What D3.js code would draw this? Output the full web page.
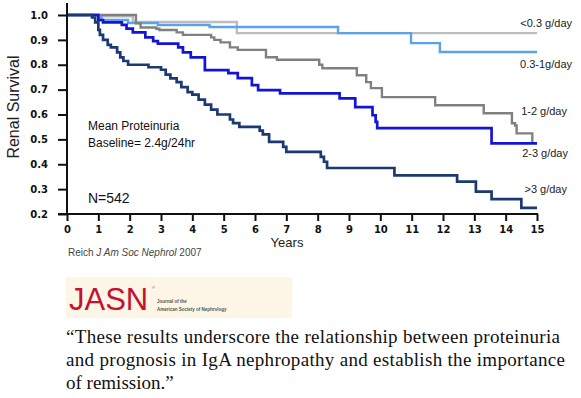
<!DOCTYPE html>
<html>
<head>
<meta charset="utf-8">
<script src="https://cdn.jsdelivr.net/npm/d3@7"></script>
<style>
  html, body { margin: 0; padding: 0; background: #fff; }
  svg { display: block; }
</style>
</head>
<body>
<svg id="chart" width="581" height="398"></svg>
<script>

// Kaplan-Meier steps per proteinuria group: [year, survival]
const lt03 = [[0,1],[1.0,0.995],[2.1,0.972],[5.42,0.927]];
const p03to1 = [[0,1],[1.0,0.99],[1.1,0.98],[1.95,0.968],[2.9,0.96],[4.55,0.952],[8.65,0.927],[10.98,0.887],[11.9,0.851]];
const p1to2 = [[0,1],[2.2,0.967],[2.35,0.95],[2.85,0.945],[2.95,0.94],[3.5,0.93],[3.7,0.92],[4.6,0.91],[4.7,0.9],[4.9,0.89],[5.2,0.87],[5.45,0.86],[6.35,0.83],[6.7,0.82],[8.05,0.80],[8.15,0.786],[9.25,0.758],[9.55,0.73],[9.7,0.706],[10.05,0.67],[11.75,0.637],[13.3,0.605],[14.2,0.565],[14.3,0.556],[14.35,0.524],[14.85,0.488]];
const p2to3 = [[0,1],[1.0,0.98],[1.15,0.97],[1.75,0.96],[1.9,0.945],[2.1,0.93],[2.5,0.91],[2.75,0.895],[2.9,0.885],[3.55,0.87],[3.7,0.85],[3.95,0.83],[4.4,0.778],[5.15,0.766],[5.45,0.746],[5.9,0.718],[6.1,0.698],[6.8,0.685],[8.7,0.665],[9.2,0.63],[9.75,0.597],[9.85,0.57],[9.9,0.545],[13.55,0.484]];
const gt3 = [[0,1],[0.8,0.99],[0.9,0.97],[1.0,0.94],[1.05,0.92],[1.15,0.9],[1.3,0.88],[1.4,0.87],[1.6,0.85],[1.7,0.83],[1.8,0.815],[1.95,0.80],[2.6,0.79],[3.0,0.78],[3.15,0.76],[3.3,0.745],[3.5,0.73],[3.65,0.71],[3.85,0.69],[4.0,0.68],[4.2,0.66],[4.4,0.64],[4.6,0.62],[4.8,0.60],[5.2,0.58],[5.3,0.565],[5.5,0.55],[6.15,0.535],[6.25,0.52],[6.45,0.49],[6.9,0.47],[7.0,0.45],[8.1,0.43],[8.2,0.41],[8.3,0.385],[10.45,0.355],[12.45,0.33],[13.05,0.29],[13.55,0.26],[14.5,0.225]];

const seriesNames = ["<0.3 g/day", "0.3-1g/day", "1-2 g/day", "2-3 g/day", ">3 g/day"];
const seriesEnds = [15, 15, 14.87, 15, 15];
const yTicks = [0.2, 0.3, 0.4, 0.5, 0.6, 0.7, 0.8, 0.9, 1.0];
const xTicks = d3.range(0, 16);

const quoteLines = [
  "\u201CThese results underscore the relationship between proteinuria",
  "and prognosis in IgA nephropathy and establish the importance",
  "of remission.\u201D"
];

const svg = d3.select("#chart");

const x = d3.scaleLinear().domain([0, 15]).range([67, 537]);
const y = d3.scaleLinear().domain([0.2, 1.0]).range([214, 15]);

const colors = ["#bdbdbd", "#5ba3e8", "#808080", "#1414d8", "#1b3a73"];
const widths = [2.4, 2.4, 2.4, 2.7, 2.7];
const allSeries = [lt03, p03to1, p1to2, p2to3, gt3];

// curves
const line = d3.line()
    .x(d => x(d[0]))
    .y(d => y(d[1]))
    .curve(d3.curveStepAfter);

allSeries.forEach((s, i) => {
    const pts = s.concat([[seriesEnds[i], s[s.length - 1][1]]]);
    svg.append("path")
        .datum(pts)
        .attr("fill", "none")
        .attr("stroke", colors[i])
        .attr("stroke-width", widths[i])
        .attr("d", line);
});

// axes
const yAxis = svg.append("g")
    .attr("transform", "translate(67,0)")
    .call(d3.axisLeft(y).tickValues(yTicks).tickFormat(d3.format(".1f")).tickSize(9).tickPadding(10));

const xAxis = svg.append("g")
    .attr("transform", "translate(0,214)")
    .call(d3.axisBottom(x).tickValues(xTicks).tickSize(7).tickPadding(5));

[yAxis, xAxis].forEach(g => {
    g.select(".domain").remove();
    g.selectAll("line").attr("stroke", "#111").attr("stroke-width", 2);
    g.selectAll("text")
        .attr("fill", "#111")
        .style("font-family", "'DejaVu Sans', Verdana, sans-serif")
        .style("font-weight", "bold")
        .style("font-size", "10px");
});

svg.append("line")
    .attr("x1", 67).attr("x2", 67)
    .attr("y1", 3).attr("y2", 215)
    .attr("stroke", "#111").attr("stroke-width", 2);
svg.append("line")
    .attr("x1", 58).attr("x2", 538)
    .attr("y1", 214).attr("y2", 214)
    .attr("stroke", "#111").attr("stroke-width", 2);

// axis titles
svg.append("text")
    .attr("transform", "translate(19,107) rotate(-90)")
    .attr("text-anchor", "middle")
    .style("font-family", "'Liberation Sans', Arial, sans-serif")
    .style("font-size", "16px")
    .attr("fill", "#222")
    .text("Renal Survival");

svg.append("text")
    .attr("x", 287).attr("y", 247)
    .attr("text-anchor", "middle")
    .style("font-family", "'Liberation Sans', Arial, sans-serif")
    .style("font-size", "13px")
    .attr("fill", "#222")
    .text("Years");

// series labels
const labelPos = [[572, 27], [572, 68], [567, 115], [568, 157], [567, 193]];
svg.append("g")
    .selectAll("text")
    .data(seriesNames)
    .join("text")
        .attr("x", (d, i) => labelPos[i][0])
        .attr("y", (d, i) => labelPos[i][1])
        .attr("text-anchor", "end")
        .style("font-family", "'Liberation Sans', Arial, sans-serif")
        .style("font-size", "11px")
        .attr("fill", "#222")
    .text(d => d);

// annotations
const note = svg.append("g")
    .style("font-family", "'Liberation Sans', Arial, sans-serif")
    .attr("fill", "#111");
note.append("text").attr("x", 88).attr("y", 130).style("font-size", "12px").text("Mean Proteinuria");
note.append("text").attr("x", 88).attr("y", 147).style("font-size", "12px").text("Baseline= 2.4g/24hr");
note.append("text").attr("x", 88).attr("y", 203).style("font-size", "14px").text("N=542");

// citation
const cite = svg.append("text")
    .attr("x", 68).attr("y", 256)
    .style("font-family", "'Liberation Sans', Arial, sans-serif")
    .style("font-size", "10px")
    .attr("fill", "#444");
cite.append("tspan").text("Reich ");
cite.append("tspan").style("font-style", "italic").text("J Am Soc Nephrol");
cite.append("tspan").text(" 2007");

// JASN logo block
const logo = svg.append("g");
logo.append("rect")
    .attr("x", 66).attr("y", 277)
    .attr("width", 226).attr("height", 41)
    .attr("fill", "#fdf5e6");
logo.append("text")
    .attr("x", 69).attr("y", 310)
    .style("font-family", "'Liberation Sans', Arial, sans-serif")
    .style("font-size", "31px")
    .attr("fill", "#c4122f")
    .text("JASN");
logo.append("text")
    .attr("x", 152).attr("y", 289)
    .style("font-family", "'Liberation Sans', Arial, sans-serif")
    .style("font-size", "4px")
    .attr("fill", "#c4122f")
    .text("\u00AE");
logo.append("text")
    .attr("x", 157).attr("y", 303)
    .style("font-family", "'Liberation Sans', Arial, sans-serif")
    .style("font-size", "4.5px")
    .style("font-weight", "bold")
    .attr("fill", "#555")
    .text("Journal of the");
logo.append("text")
    .attr("x", 157).attr("y", 311)
    .style("font-family", "'Liberation Sans', Arial, sans-serif")
    .style("font-size", "4.5px")
    .style("font-weight", "bold")
    .attr("fill", "#555")
    .text("American Society of Nephrology");

// quote
const quoteWidths = [494, 499, null];
svg.append("g")
    .selectAll("text")
    .data(quoteLines)
    .join("text")
        .attr("x", 66)
        .attr("y", (d, i) => 343 + i * 23)
        .attr("textLength", (d, i) => quoteWidths[i])
        .attr("lengthAdjust", "spacing")
        .style("font-family", "'Liberation Serif', 'Times New Roman', serif")
        .style("font-size", "19px")
        .attr("fill", "#111")
    .text(d => d);

</script>
</body>
</html>
